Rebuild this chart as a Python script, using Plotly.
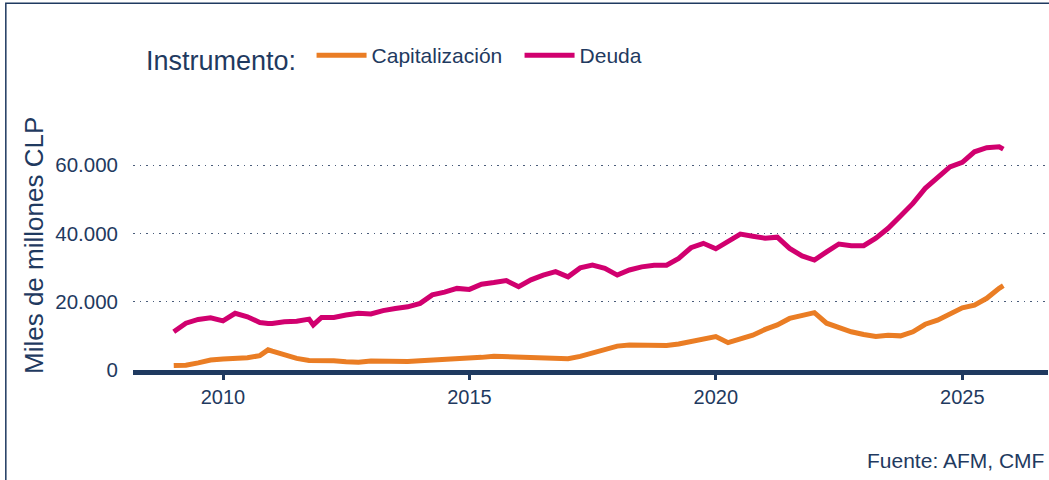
import plotly.graph_objects as go

# ---- data ----
fechas = [
    "2009-01-01", "2009-04-01", "2009-07-01", "2009-10-01",
    "2010-01-01", "2010-04-01", "2010-07-01", "2010-10-01", "2010-12-01",
    "2011-01-01", "2011-04-01", "2011-07-01", "2011-10-01", "2011-11-01",
    "2012-01-01", "2012-04-01", "2012-07-01", "2012-10-01",
    "2013-01-01", "2013-04-01", "2013-07-01", "2013-10-01",
    "2014-01-01", "2014-04-01", "2014-07-01", "2014-10-01",
    "2015-01-01", "2015-04-01", "2015-07-01", "2015-10-01",
    "2016-01-01", "2016-04-01", "2016-07-01", "2016-10-01",
    "2017-01-01", "2017-04-01", "2017-07-01", "2017-10-01",
    "2018-01-01", "2018-04-01", "2018-07-01", "2018-10-01",
    "2019-01-01", "2019-04-01", "2019-07-01", "2019-10-01",
    "2020-01-01", "2020-04-01", "2020-07-01", "2020-10-01",
    "2021-01-01", "2021-04-01", "2021-07-01", "2021-10-01",
    "2022-01-01", "2022-04-01", "2022-07-01", "2022-10-01",
    "2023-01-01", "2023-04-01", "2023-07-01", "2023-10-01",
    "2024-01-01", "2024-04-01", "2024-07-01", "2024-10-01",
    "2025-01-01", "2025-04-01", "2025-07-01", "2025-10-01", "2025-11-01",
]

deuda = [
    11200, 13700, 14800, 15300,
    14400, 16600, 15600, 13900, 13600,
    13600, 14100, 14300, 14900, 13200,
    15400, 15400, 16100, 16600,
    16400, 17400, 18000, 18500,
    19500, 22000, 22800, 23900,
    23600, 25100, 25600, 26200,
    24400, 26400, 27800, 28800,
    27300, 29900, 30700, 29800,
    27800, 29300, 30200, 30700,
    30700, 32700, 35800, 37100,
    35500, 37600, 39800, 39200,
    38600, 38900, 35600, 33400,
    32200, 34600, 36900, 36400,
    36400, 38600, 41500, 45100,
    48800, 53200, 56100, 59500,
    60800, 63900, 65100, 65400, 64700,
]

capitalizacion = [
    1300, 1400, 2100, 2900,
    3200, 3400, 3600, 4200, 5900,
    5500, 4400, 3400, 2800, 2800,
    2900, 2700, 2400, 2300,
    2600, 2500, 2300, 2500,
    2700, 2900, 3100, 3100,
    3200, 3700, 4000, 3900,
    3700, 3400, 3400, 3400,
    3300, 4000, 4900, 5900,
    7000, 7300, 7200, 7100,
    7200, 7600, 8300, 9100,
    9800, 8000, 9000, 10200,
    11900, 13200, 15100, 16100,
    16800, 13700, 12500, 11200,
    10400, 9800, 10200, 10000,
    11200, 13400, 14600, 16600,
    18200, 19000, 21000, 23900, 24700,
]

series_nombres = ["Capitalización", "Deuda"]
series_colores = ["#EA7D24", "#D1006F"]
tick_vals_y = [0, 20000, 40000, 60000]
tick_text_y = ["0", "20.000", "40.000", "60.000"]
tick_vals_x = ["2010-01-01", "2015-01-01", "2020-01-01", "2025-01-01"]
tick_text_x = ["2010", "2015", "2020", "2025"]

NAVY = "#1F3A60"
FONT = "Liberation Sans, Arial, sans-serif"

fig = go.Figure()
for nombre, valores, color in zip(series_nombres, [capitalizacion, deuda], series_colores):
    fig.add_trace(go.Scatter(
        x=fechas, y=valores, mode="lines", name=nombre,
        line=dict(color=color, width=5),
    ))

fig.update_layout(
    width=1049, height=480,
    margin=dict(l=133, r=1, t=131, b=110, autoexpand=False),
    paper_bgcolor="white", plot_bgcolor="white",
    font=dict(family=FONT, color=NAVY, size=21),
    showlegend=True,
    legend=dict(
        orientation="h", x=0.012, xanchor="left", y=1.305, yanchor="middle",
        title=dict(text="Instrumento:\u00a0", side="left", font=dict(size=27, color=NAVY)),
        font=dict(size=21, color=NAVY),
        itemwidth=50, entrywidth=143, entrywidthmode="pixels",
        bgcolor="rgba(0,0,0,0)",
    ),
    xaxis=dict(
        type="date",
        range=["2008-03-05", "2026-09-28"],
        tickvals=tick_vals_x, ticktext=tick_text_x,
        showgrid=False, zeroline=False,
        showline=True, linecolor=NAVY, linewidth=5,
        ticks="outside", ticklen=5, tickwidth=3, tickcolor=NAVY,
        tickfont=dict(size=20, color=NAVY),
    ),
    yaxis=dict(
        range=[0, 70000],
        tickvals=tick_vals_y, ticktext=tick_text_y,
        showgrid=True, gridcolor="#4A5C7A", gridwidth=1.2, griddash="1.5px,5px",
        zeroline=False, showline=False, ticks="",
        ticklabelstandoff=14,
        tickfont=dict(size=20.5, color=NAVY),
    ),
    annotations=[
        dict(text="Miles de millones CLP", xref="paper", yref="paper",
             x=-0.109, y=0.52, textangle=-90, showarrow=False,
             xanchor="center", yanchor="middle",
             font=dict(size=26, color=NAVY)),
        dict(text="Fuente: AFM, CMF", xref="paper", yref="paper",
             x=0.998, y=-0.377, xanchor="right", yanchor="middle",
             showarrow=False, font=dict(size=21, color=NAVY)),
    ],
    shapes=[
        dict(type="rect", xref="paper", yref="paper",
             x0=-0.139, x1=1.2, y0=-1.0, y1=1.535,
             line=dict(color=NAVY, width=1.5), fillcolor="rgba(0,0,0,0)", layer="below"),
    ],
)

fig.write_html(
    "out.html",
    config={"displayModeBar": False},
    post_script="document.body.style.margin='0';document.body.style.padding='0';",
)
